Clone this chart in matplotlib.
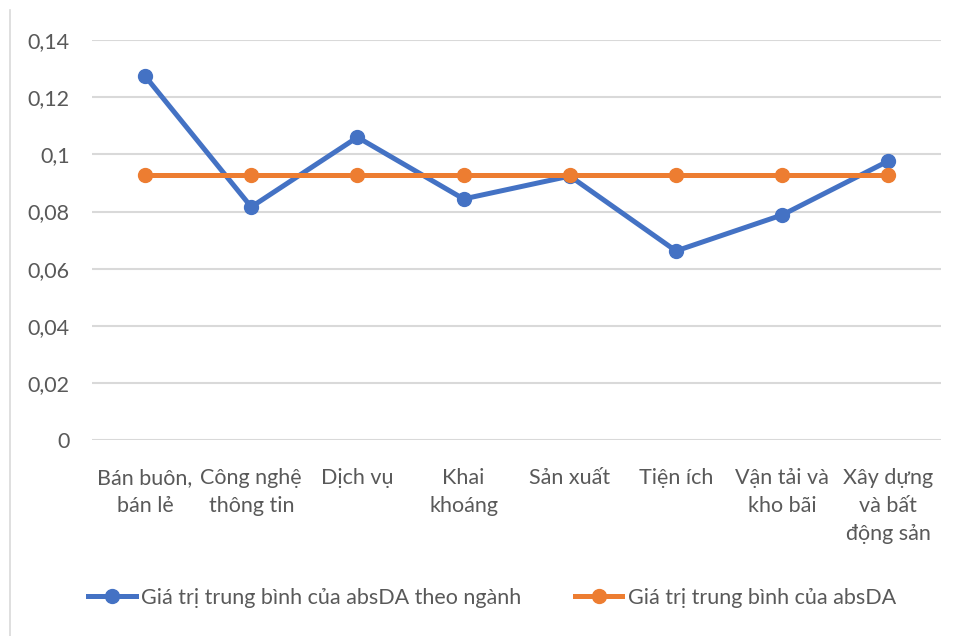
import matplotlib.pyplot as plt
from matplotlib.lines import Line2D
from matplotlib.ticker import FuncFormatter

plt.rcParams['font.family'] = ['Lato', 'DejaVu Sans']

# data
categories = ['Bán buôn,\nbán lẻ', 'Công nghệ\nthông tin', 'Dịch vụ', 'Khai\nkhoáng',
              'Sản xuất', 'Tiện ích', 'Vận tải và\nkho bãi', 'Xây dựng\nvà bất\nđộng sản']
by_sector = [0.1274, 0.0816, 0.1060, 0.0844, 0.0924, 0.0662, 0.0788, 0.0977]
overall = [0.0928] * 8
label_sector = 'Giá trị trung bình của absDA theo ngành'
label_overall = 'Giá trị trung bình của absDA'

blue = '#4472C4'
orange = '#ED7D31'
text_color = '#595959'

fig = plt.figure(figsize=(9.61, 6.36), dpi=100)
ax = fig.add_axes([0.0957, 0.308, 0.884, 0.629])

# chart border remnant on the left
fig.add_artist(Line2D([0.0105, 0.0105], [0.0, 0.985], color='#d9d9d9', lw=1.2))

x = range(len(categories))
ax.plot(x, by_sector, color=blue, lw=3.6, marker='o', ms=10, label=label_sector, zorder=3)
ax.plot(x, overall, color=orange, lw=3.6, marker='o', ms=10, label=label_overall, zorder=3)

ax.set_xlim(-0.5, len(categories) - 0.5)
ax.set_ylim(0, 0.14)
ax.set_yticks([0, 0.02, 0.04, 0.06, 0.08, 0.1, 0.12, 0.14])
ax.yaxis.set_major_formatter(FuncFormatter(lambda v, p: '0' if v == 0 else ('%g' % round(v, 2)).replace('.', ',')))
ax.set_xticks(list(x))
ax.set_xticklabels(categories, linespacing=1.5)

ax.grid(axis='y', color='#d9d9d9', lw=1.5)
ax.set_axisbelow(True)
for s in ax.spines.values():
    s.set_visible(False)
ax.tick_params(axis='both', length=0, labelsize=15.5, colors=text_color)
ax.tick_params(axis='x', pad=20)
ax.tick_params(axis='y', pad=16)

fig.legend(loc='center', bbox_to_anchor=(0.512, 0.06), ncol=2, frameon=False,
           fontsize=15.5, labelcolor=text_color, handlelength=2.2, handletextpad=0.25,
           columnspacing=2.5)

fig.savefig('out.png', dpi=100)
